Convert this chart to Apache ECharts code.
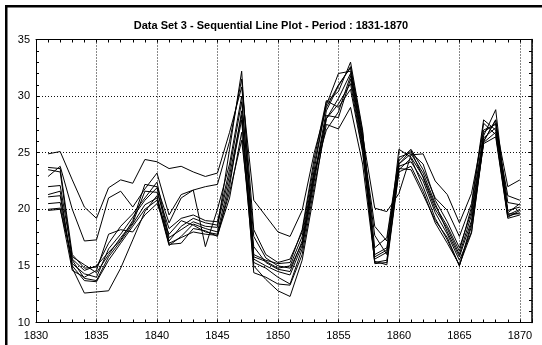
<!DOCTYPE html>
<html><head><meta charset="utf-8">
<script src="https://cdn.jsdelivr.net/npm/echarts@6/dist/echarts.min.js"></script>
<style>html,body{margin:0;padding:0;background:#fff}#c{width:542px;height:345px}</style>
</head><body><div id="c"></div>
<script>
const titleText = 'Data Set 3 - Sequential Line Plot - Period : 1831-1870';
const years = [1831,1832,1833,1834,1835,1836,1837,1838,1839,1840,1841,1842,1843,1844,1845,1846,1847,1848,1849,1850,1851,1852,1853,1854,1855,1856,1857,1858,1859,1860,1861,1862,1863,1864,1865,1866,1867,1868,1869,1870];
const s1 = [24.9,25.1,22.6,20.2,19.2,21.9,22.6,22.3,24.4,24.2,23.6,23.8,23.3,22.9,23.2,26.8,30.8,20.8,19.4,18.0,17.6,19.9,25.0,29.0,31.0,32.5,26.5,20.1,19.8,21.4,24.8,24.9,22.5,21.3,18.8,21.4,27.0,27.5,22.0,22.6];
const s2 = [23.7,23.6,16.0,14.8,14.9,17.0,18.5,19.6,21.0,22.4,17.5,18.2,18.9,18.5,18.4,25.3,32.2,15.8,15.4,14.8,15.0,17.6,23.5,29.5,30.4,33.0,27.0,15.6,16.2,24.0,25.2,22.8,20.0,18.3,16.0,19.5,26.5,28.8,19.5,20.0];
const s3 = [23.5,23.3,15.5,13.9,13.7,15.8,17.2,18.7,20.4,21.0,16.9,17.0,18.3,18.1,17.6,22.0,28.7,15.3,14.8,14.0,13.4,16.5,22.5,28.3,28.1,31.5,25.5,15.3,15.5,23.5,24.5,22.0,19.2,17.3,15.0,18.5,25.8,26.4,19.2,19.5];
const s4 = [22.9,23.8,20.0,17.2,17.3,21.0,21.6,20.2,21.8,23.2,19.5,21.3,21.7,22.0,22.2,26.0,31.5,18.2,16.0,15.3,15.6,18.0,24.0,29.2,32.0,32.2,26.0,18.5,17.2,24.3,25.3,23.5,21.0,19.9,17.6,20.5,27.9,27.0,21.2,20.8];
const s5 = [22.0,22.1,15.8,15.1,14.4,16.0,17.5,18.8,21.6,21.5,18.3,19.2,19.5,19.0,18.9,23.5,29.5,17.6,15.7,15.0,14.8,17.0,23.0,28.0,29.3,31.1,25.2,16.0,16.6,23.8,24.2,22.5,19.7,17.8,15.5,18.0,26.0,27.9,19.9,20.2];
const s6 = [21.1,21.2,15.0,13.7,13.6,15.5,17.0,18.5,20.0,20.8,16.8,17.6,18.7,18.3,18.0,22.5,27.9,14.4,14.0,13.4,13.3,16.0,22.0,27.5,27.1,29.0,24.0,15.4,15.1,23.3,23.8,21.6,18.8,17.0,15.1,17.9,25.9,26.8,19.4,19.7];
const s7 = [20.5,20.6,15.2,14.3,14.0,16.5,17.8,19.3,20.8,21.9,17.2,18.5,19.2,18.8,18.6,23.0,28.3,15.6,15.0,14.5,14.2,16.8,22.8,28.7,30.9,32.6,26.8,16.6,17.5,24.6,25.0,24.0,20.8,18.9,16.6,19.8,26.8,27.6,20.6,20.4];
const s8 = [20.0,20.1,14.6,14.0,14.6,17.8,18.2,18.0,19.5,20.5,17.8,19.0,18.6,18.0,17.8,21.5,26.1,16.7,15.3,14.7,14.5,17.2,23.3,27.0,28.6,31.8,25.8,17.7,16.0,25.3,24.6,22.9,20.3,18.5,16.3,20.2,27.6,26.6,19.3,19.9];
const s9 = [19.9,20.0,15.6,14.6,15.0,16.2,17.3,19.0,22.2,22.0,18.8,21.0,21.7,16.7,20.0,24.0,30.0,16.0,15.5,15.2,15.3,18.2,24.5,29.6,29.0,30.6,25.0,15.8,16.4,24.0,24.9,23.2,20.5,18.0,15.8,19.0,26.3,27.2,19.7,20.5];
const s10 = [21.3,21.6,14.8,12.6,12.7,12.8,14.8,17.3,19.8,21.2,17.0,17.5,18.0,17.8,17.7,21.0,26.8,15.0,13.8,12.8,12.3,15.5,21.5,28.0,29.8,32.0,26.2,15.2,15.3,23.6,23.5,21.3,19.0,17.5,15.0,18.8,26.0,27.9,19.6,19.6];
const allSeries = [s1,s2,s3,s4,s5,s6,s7,s8,s9,s10];
const xMin = 1830, xMax = 1871, xStep = 5;
const yMin = 10, yMax = 35, yStep = 5;

const font = 'Liberation Sans, Arial, sans-serif';
const chart = echarts.init(document.getElementById('c'), null, {renderer:'canvas'});
const dotted = {color:'#111', width:1, type:[1,2]};
const tickOnly = (pos) => ({
  type:'value', position:pos, min:xMin, max:xMax, interval:1,
  axisLine:{show:false}, axisLabel:{show:false}, splitLine:{show:false},
  axisTick:{show:true, inside:true, length:3, lineStyle:{color:'#000', width:1}}
});
chart.setOption({
  animation:false,
  backgroundColor:'#fff',
  title:{text:titleText, left:'center', top:15, textStyle:{fontFamily:font, fontSize:11, fontWeight:'bold', color:'#000'}},
  grid:{left:36, right:10, top:39.5, bottom:22.5, containLabel:false},
  xAxis:[
    {type:'value', position:'bottom', min:xMin, max:xMax, interval:xStep,
     axisLine:{show:true, onZero:false, lineStyle:{color:'#000', width:1}},
     axisTick:{show:false},
     axisLabel:{show:true, color:'#000', fontFamily:font, fontSize:11, margin:8, showMaxLabel:false,
                formatter:(v) => String(v)},
     splitLine:{show:true, lineStyle:dotted}},
    tickOnly('bottom'),
    Object.assign(tickOnly('top'), {axisLine:{show:true, onZero:false, lineStyle:{color:'#000', width:1}}})
  ],
  yAxis:[
    {type:'value', position:'left', min:yMin, max:yMax, interval:yStep,
     axisLine:{show:true, onZero:false, lineStyle:{color:'#000', width:1}},
     axisTick:{show:true, inside:true, length:3, lineStyle:{color:'#000'}},
     minorTick:{show:true, splitNumber:5, length:3, lineStyle:{color:'#000'}},
     axisLabel:{show:true, color:'#000', fontFamily:font, fontSize:11, margin:6},
     splitLine:{show:true, lineStyle:dotted}},
    {type:'value', position:'right', min:yMin, max:yMax, interval:yStep,
     axisLine:{show:true, onZero:false, lineStyle:{color:'#000', width:1.5}},
     axisTick:{show:true, inside:true, length:3, lineStyle:{color:'#000'}},
     minorTick:{show:true, splitNumber:5, length:3, lineStyle:{color:'#000'}},
     axisLabel:{show:false}, splitLine:{show:false}}
  ],
  graphic:[{type:'rect', shape:{x:6.25, y:6.25, width:600, height:400}, style:{fill:null, stroke:'#000', lineWidth:2.5}, silent:true, z:100}],
  series: allSeries.map((s, i) => ({
    type:'line', name:'S'+(i+1), xAxisIndex:0, yAxisIndex:0,
    data: years.map((y, j) => [y, s[j]]),
    showSymbol:false, symbol:'none',
    lineStyle:{color:'#000', width:1}, itemStyle:{color:'#000'},
    emphasis:{disabled:true}
  }))
});
</script></body></html>
